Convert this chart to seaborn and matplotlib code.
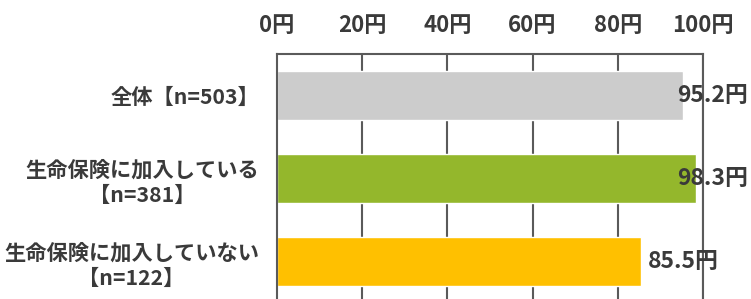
import matplotlib
matplotlib.use("Agg")
import matplotlib.pyplot as plt
import seaborn as sns
import pandas as pd

categories = ["全体【n=503】", "生命保険に加入している\n【n=381】", "生命保険に加入していない\n【n=122】"]
values = [95.2, 98.3, 85.5]
colors = ["#CCCCCC", "#94B72C", "#FFC000"]
xticks = [0, 20, 40, 60, 80, 100]
xtick_labels = ["0円", "20円", "40円", "60円", "80円", "100円"]
value_labels = ["95.2円", "98.3円", "85.5円"]

sns.set_theme(style="white")
plt.rcParams['font.family'] = ['Noto Sans CJK JP', 'DejaVu Sans']

W, H = 751, 299
fig = plt.figure(figsize=(W / 100, H / 100), dpi=100)
left, right, top, bottom = 277, 703, 54, 303
ax = fig.add_axes([left / W, (H - bottom) / H, (right - left) / W, (bottom - top) / H])

df = pd.DataFrame({"cat": categories, "val": values})
sns.barplot(data=df, y="cat", x="val", hue="cat", palette=colors, orient="h",
            width=0.58, legend=False, ax=ax, saturation=1)

text_color = "#3A3A3A"
grid_color = "#5A5A5A"
ax.set_xlim(0, 100)
ax.set_ylim(2.5, -0.5)
ax.set_xlabel("")
ax.set_ylabel("")
ax.xaxis.tick_top()
ax.set_xticks(xticks)
ax.set_xticklabels(xtick_labels, fontsize=16, fontweight="bold", color=text_color)
ax.tick_params(axis="x", length=0, pad=12)
ax.set_yticks(range(len(categories)))
ax.set_yticklabels(categories, fontsize=15.3, fontweight="bold", color=text_color,
                   linespacing=1.25)
for lbl in ax.get_yticklabels():
    lbl.set_multialignment("center")
ax.tick_params(axis="y", length=0, pad=13)
ax.set_yticks([0.5, 1.5, 2.5], minor=True)
ax.tick_params(axis="y", which="minor", length=4, direction="in", color=grid_color, width=1.5)

for xv in xticks[1:]:
    ax.axvline(xv, color=grid_color, lw=1.5, zorder=0)
for side in ["top", "left", "right"]:
    ax.spines[side].set_visible(True)
    ax.spines[side].set_color(grid_color)
    ax.spines[side].set_linewidth(1.5)
ax.spines["bottom"].set_visible(False)
ax.set_axisbelow(True)

texts = []
for i, (v, lab) in enumerate(zip(values, value_labels)):
    t = ax.annotate(lab, xy=(v, i), xytext=(5, 0), textcoords="offset points",
                    ha="left", va="center", fontsize=16.5, fontweight="bold",
                    color=text_color, zorder=5, annotation_clip=False)
    texts.append(t)

fig.canvas.draw()
r = fig.canvas.get_renderer()
limit = 748
for t in texts:
    bb = t.get_window_extent(r)
    if bb.x1 > limit:
        shift_pts = (bb.x1 - limit) * 72 / fig.dpi
        x0, y0 = t.xyann
        t.xyann = (x0 - shift_pts, y0)

fig.savefig("out.png", dpi=100)
